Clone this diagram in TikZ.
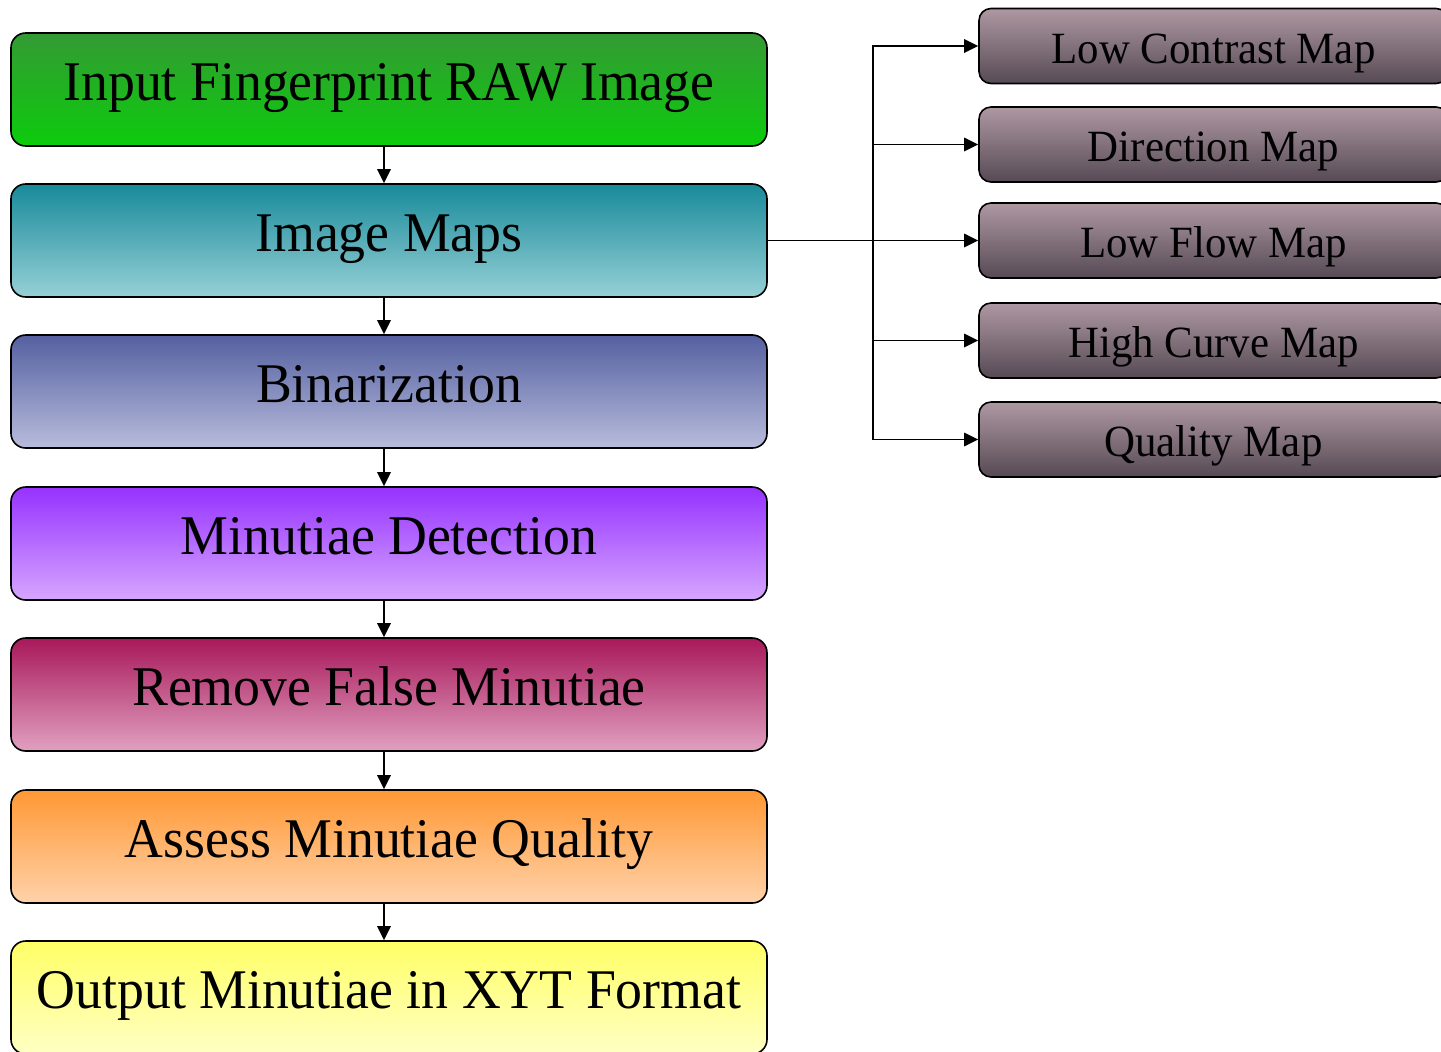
\documentclass[tikz,border=0pt]{standalone}
\usepackage{fontspec}
\setmainfont[FakeStretch=0.96]{Liberation Serif}
\usetikzlibrary{arrows.meta,positioning}

% stage colours (top / bottom of each gradient)
\definecolor{gTop}{RGB}{52,154,52}
\definecolor{gBot}{RGB}{12,204,12}
\definecolor{tTop}{RGB}{24,138,154}
\definecolor{tBot}{RGB}{150,208,214}
\definecolor{bTop}{RGB}{84,96,160}
\definecolor{bBot}{RGB}{184,188,220}
\definecolor{pTop}{RGB}{150,50,255}
\definecolor{pBot}{RGB}{214,166,255}
\definecolor{mTop}{RGB}{168,24,90}
\definecolor{mBot}{RGB}{224,160,192}
\definecolor{oTop}{RGB}{255,152,52}
\definecolor{oBot}{RGB}{255,210,170}
\definecolor{yTop}{RGB}{255,255,102}
\definecolor{yBot}{RGB}{255,255,196}
\definecolor{mapTop}{RGB}{174,152,162}
\definecolor{mapBot}{RGB}{86,74,84}

\tikzset{
  stage/.style={draw=black, line width=1.2pt, rounded corners=11pt,
    minimum width=567pt, minimum height=84.75pt, inner sep=0pt,
    text height=30pt, text depth=12.8pt,
    font=\fontsize{42}{48}\selectfont},
  mapbox/.style={draw=black, line width=1.2pt, rounded corners=9pt,
    minimum width=351.75pt, minimum height=56.25pt, inner sep=0pt,
    text height=34pt, text depth=8.5pt,
    font=\fontsize{33.5}{38}\selectfont},
  arr/.style={line width=1.3pt, -{Triangle[length=10.5pt,width=10pt]}},
  link/.style={line width=1.3pt}
}

\begin{document}
\begin{tikzpicture}[x=0.75pt, y=-0.75pt]
  \clip (0,0) rectangle (1441,1051);

  % processing pipeline
  \node[stage, top color=gTop, bottom color=gBot] (raw)  at (389,89.5)  {Input Fingerprint RAW Image};
  \node[stage, top color=tTop, bottom color=tBot] (maps) at (389,240.5) {Image Maps};
  \node[stage, top color=bTop, bottom color=bBot] (bin)  at (389,391.5) {Binarization};
  \node[stage, top color=pTop, bottom color=pBot] (det)  at (389,543.5) {Minutiae Detection};
  \node[stage, top color=mTop, bottom color=mBot] (rem)  at (389,694.5) {Remove False Minutiae};
  \node[stage, top color=oTop, bottom color=oBot] (qual) at (389,846.5) {Assess Minutiae Quality};
  \node[stage, top color=yTop, bottom color=yBot] (out)  at (389,997.5) {Output Minutiae in XYT Format};

  % generated maps
  \node[mapbox, top color=mapTop, bottom color=mapBot] (m1) at (1213.5,46)    {Low Contrast Map};
  \node[mapbox, top color=mapTop, bottom color=mapBot] (m2) at (1213.5,144.5) {Direction Map};
  \node[mapbox, top color=mapTop, bottom color=mapBot] (m3) at (1213.5,240.5) {Low Flow Map};
  \node[mapbox, top color=mapTop, bottom color=mapBot] (m4) at (1213.5,340.5) {High Curve Map};
  \node[mapbox, top color=mapTop, bottom color=mapBot] (m5) at (1213.5,439.5) {Quality Map};

  % pipeline arrows
  \foreach \a/\b in {raw/maps, maps/bin, bin/det, det/rem, rem/qual, qual/out}
    \draw[arr] ([xshift=-3.75pt]\a.south) -- ([xshift=-3.75pt]\b.north);

  % fan-out to the maps
  \coordinate (hub) at (873,240.5);
  \draw[link] (maps.east) -- (hub);
  \foreach \m in {m1,m2,m3,m4,m5}
    \draw[arr] (hub) |- (\m.west);
\end{tikzpicture}
\end{document}
